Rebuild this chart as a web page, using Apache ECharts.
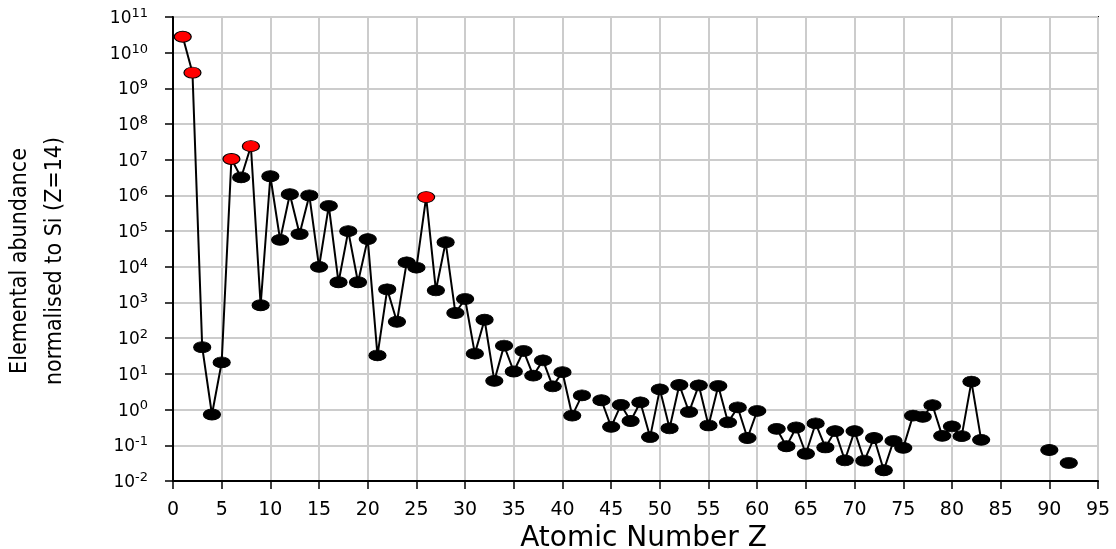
<!DOCTYPE html>
<html>
<head>
<meta charset="utf-8">
<title>Solar system elemental abundances</title>
<script src="https://cdn.jsdelivr.net/npm/echarts@6/dist/echarts.min.js"></script>
<style>
  html, body { margin: 0; padding: 0; background: #ffffff; }
  #chart { width: 1116px; height: 549px; }
</style>
</head>
<body>
<div id="chart"></div>
<script>
// Abundance of each element, Z = 1 … 92 (index + 1), relative to Si = 1e6.
// null marks elements without a value (Tc, Pm, Po–Ac, Pa).
const abundance = [
  2.8e10, 2.75e9, 56, 0.73, 21, 1.05e7, 3.2e6, 2.4e7, 840, 3.45e6,      // 1-10
  5.7e4, 1.08e6, 8.3e4, 1.0e6, 1.0e4, 5.1e5, 3700, 1.0e5, 3700, 6.0e4,  // 11-20
  33, 2350, 290, 1.34e4, 9500, 9.0e5, 2200, 4.9e4, 510, 1260,           // 21-30
  37, 330, 6.4, 62, 11.7, 44, 9.0, 24, 4.5, 11.2,                       // 31-40
  0.68, 2.5, null, 1.83, 0.33, 1.36, 0.48, 1.6, 0.17, 3.7,              // 41-50
  0.3, 4.9, 0.86, 4.8, 0.36, 4.6, 0.44, 1.15, 0.16, 0.92,               // 51-60
  null, 0.29, 0.094, 0.315, 0.058, 0.41, 0.087, 0.25, 0.038, 0.25,      // 61-70
  0.037, 0.16, 0.020, 0.133, 0.085, 0.68, 0.63, 1.33, 0.184, 0.34,      // 71-80
  0.18, 6.1, 0.142, null, null, null, null, null, null, 0.074,          // 81-90
  null, 0.032                                                           // 91-92
];

// Elements drawn in red: H, He, C, O, Fe
const highlightedZ = [1, 2, 6, 8, 26];

// Axis ranges and tick spacing
const xTicks = { min: 0, max: 95, step: 5 };
const yRange = { min: 1e-2, max: 1e11 };

const xTitle = 'Atomic Number Z';
const yTitle = 'Elemental abundance\nnormalised to Si (Z=14)';

const seriesData = abundance.map(function (v, i) {
  const z = i + 1;
  const red = highlightedZ.indexOf(z) >= 0;
  return {
    value: [z, v === null ? '-' : v],
    itemStyle: {
      color: red ? '#ff0000' : '#000000',
      borderColor: '#000000',
      borderWidth: 1
    }
  };
});

const chart = echarts.init(document.getElementById('chart'), null, { renderer: 'canvas' });

chart.setOption({
  backgroundColor: '#ffffff',
  animation: false,
  grid: {
    left: 173, right: 18, top: 17, bottom: 68,
    containLabel: false,
    outerBoundsMode: 'none',
    show: true,
    borderColor: '#000000',
    borderWidth: 2,
    backgroundColor: 'transparent'
  },
  xAxis: {
    type: 'value',
    min: xTicks.min,
    max: xTicks.max,
    interval: xTicks.step,
    name: xTitle,
    nameLocation: 'middle',
    nameGap: 44,
    nameMoveOverlap: false,
    nameTextStyle: {
      fontFamily: 'DejaVu Sans',
      fontSize: 28,
      color: '#000000',
      padding: [0, 0, 0, 16]
    },
    axisLine: { show: true, onZero: false, lineStyle: { color: '#000000', width: 2 } },
    axisTick: { show: true, inside: false, length: 8, lineStyle: { color: '#000000', width: 1.5 } },
    axisLabel: {
      margin: 20,
      fontFamily: 'DejaVu Sans',
      fontSize: 19,
      color: '#000000'
    },
    splitLine: { show: true, lineStyle: { color: '#cccccc', width: 2 } }
  },
  yAxis: {
    type: 'log',
    logBase: 10,
    min: yRange.min,
    max: yRange.max,
    interval: 1,
    name: yTitle,
    nameLocation: 'middle',
    nameRotate: 90,
    nameGap: 100,
    nameMoveOverlap: false,
    nameTextStyle: {
      fontFamily: "'Liberation Sans Narrow', 'DejaVu Sans Condensed', 'Liberation Sans', sans-serif",
      fontSize: 23,
      lineHeight: 35,
      color: '#000000',
      padding: [0, 24, 0, 0]
    },
    axisLine: { show: true, onZero: false, lineStyle: { color: '#000000', width: 2 } },
    axisTick: { show: true, inside: false, length: 8, lineStyle: { color: '#000000', width: 1.5 } },
    axisLabel: {
      margin: 25,
      formatter: function (value) {
        const e = Math.round(Math.log10(value));
        return '{b|10}{e|' + e + '}';
      },
      rich: {
        b: {
          fontFamily: 'DejaVu Sans',
          fontSize: 17,
          lineHeight: 20,
          verticalAlign: 'bottom',
          color: '#000000'
        },
        e: {
          fontFamily: 'DejaVu Sans',
          fontSize: 13,
          lineHeight: 14,
          verticalAlign: 'top',
          color: '#000000'
        }
      }
    },
    splitLine: { show: true, lineStyle: { color: '#cccccc', width: 2 } },
    minorTick: { show: false },
    minorSplitLine: { show: false }
  },
  series: [{
    type: 'line',
    data: seriesData,
    connectNulls: false,
    symbol: 'circle',
    symbolSize: [17, 11],
    showAllSymbol: true,
    lineStyle: { color: '#000000', width: 2 },
    emphasis: { disabled: true },
    z: 3
  }]
});
</script>
</body>
</html>
